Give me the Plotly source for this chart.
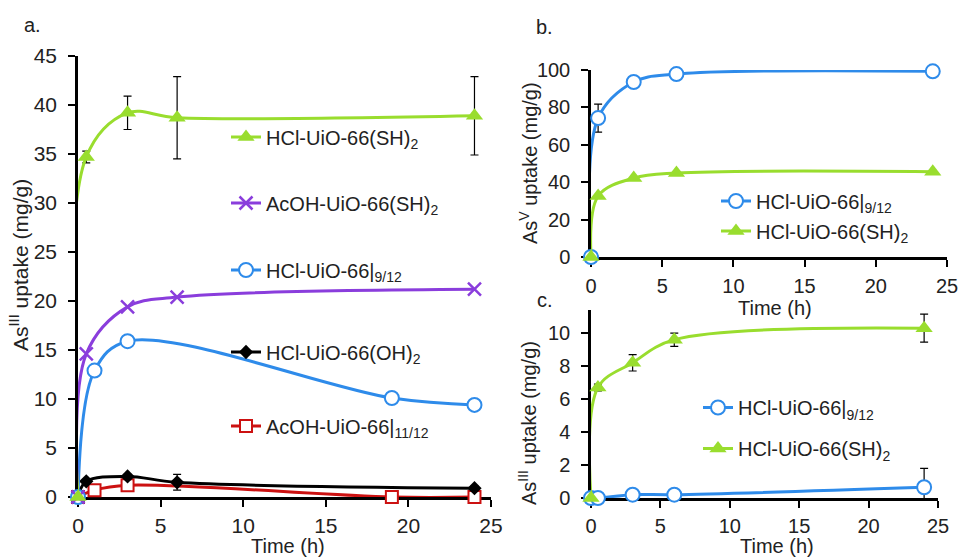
import plotly.graph_objects as go

# ---------------- data ----------------
# Panel a (As(III))
t_a_sh = [0, 0.5, 3, 6, 24]
y_a_sh = [0, 34.7, 39.2, 38.7, 38.9]
e_a_sh = [0, 0.6, 1.7, 4.2, 4.0]

t_a_acsh = [0, 0.5, 3, 6, 24]
y_a_acsh = [0, 14.6, 19.4, 20.4, 21.2]

t_a_hcl = [0, 1, 3, 19, 24]
y_a_hcl = [0, 12.9, 15.9, 10.1, 9.4]

t_a_oh = [0, 0.5, 3, 6, 24]
y_a_oh = [0, 1.6, 2.1, 1.5, 0.9]
e_a_oh = [0, 0.2, 0.2, 0.8, 0.2]

t_a_ac = [0, 1, 3, 19, 24]
y_a_ac = [0, 0.7, 1.2, 0, 0]

# Panel b (As(V))
t_b = [0, 0.5, 3, 6, 24]
y_b_hcl = [0, 74.3, 93.6, 97.8, 99.3]
e_b_hcl = [0, 7.5, 0, 0, 0]
y_b_sh = [0, 32.6, 42.2, 44.9, 45.6]

# Panel c (As(III))
t_c = [0, 0.5, 3, 6, 24]
y_c_hcl = [0, 0.0, 0.2, 0.2, 0.65]
e_c_hcl = [0, 0, 0, 0, 1.15]
y_c_sh = [0, 6.7, 8.2, 9.6, 10.3]
e_c_sh = [0, 0.2, 0.5, 0.4, 0.85]

names = {
    "sh": "HCl-UiO-66(SH)<sub>2</sub>",
    "acsh": "AcOH-UiO-66(SH)<sub>2</sub>",
    "hcl": "HCl-UiO-66|<sub>9/12</sub>",
    "oh": "HCl-UiO-66(OH)<sub>2</sub>",
    "ac": "AcOH-UiO-66|<sub>11/12</sub>",
}

GREEN = "#99DD2E"
PURPLE = "#8A3DDC"
BLUE = "#2E8BEA"
RED = "#CC1111"
BLACK = "#000000"
FONT = "Liberation Sans, Arial, sans-serif"

fig = go.Figure()
_gid = [0]


def add(x, y, name, color, symbol, xa, ya, legend, err=None, fill=None, size=13, mlw=2):
    kw = {}
    if err is not None:
        kw["error_y"] = dict(type="data", array=err, visible=True, color="black",
                             thickness=1.2, width=4)
    _gid[0] += 1
    fig.add_trace(go.Scatter(
        x=x, y=y, name=name, mode="lines+markers",
        line=dict(color=color, width=3, shape="spline", smoothing=1.0),
        marker=dict(symbol=symbol, size=size,
                    color=fill if fill else color,
                    line=dict(color=color, width=mlw)),
        xaxis=xa, yaxis=ya, legend=legend, legendgroup="g%d" % _gid[0],
        cliponaxis=False, **kw))


# panel a
add(t_a_ac, y_a_ac, names["ac"], RED, "square", "x", "y", "legend5", fill="white", size=12)
add(t_a_oh, y_a_oh, names["oh"], BLACK, "diamond", "x", "y", "legend4", err=e_a_oh, size=11, mlw=0)
add(t_a_hcl, y_a_hcl, names["hcl"], BLUE, "circle", "x", "y", "legend3", fill="white", size=14)
add(t_a_acsh, y_a_acsh, names["acsh"], PURPLE, "x-thin-open", "x", "y", "legend2", size=13, mlw=2.5)
add(t_a_sh, y_a_sh, names["sh"], GREEN, "triangle-up", "x", "y", "legend", err=e_a_sh, size=15, mlw=0)

# panel b
add(t_b, y_b_hcl, names["hcl"], BLUE, "circle", "x2", "y2", "legend6", err=e_b_hcl, fill="white", size=14)
add(t_b, y_b_sh, names["sh"], GREEN, "triangle-up", "x2", "y2", "legend6", size=15, mlw=0)

# panel c
add(t_c, y_c_hcl, names["hcl"], BLUE, "circle", "x3", "y3", "legend7", err=e_c_hcl, fill="white", size=14)
add(t_c, y_c_sh, names["sh"], GREEN, "triangle-up", "x3", "y3", "legend7", err=e_c_sh, size=15, mlw=0)

W, H = 959, 559


def px(x):
    return x / W


def py(y):
    return 1 - y / H


def axis(fs, standoff):
    return dict(showline=True, linecolor="black", linewidth=2.5, ticks="outside",
                ticklen=7, tickwidth=2, tickcolor="black", showgrid=False, zeroline=False,
                tickfont=dict(family=FONT, size=fs, color="#222"), mirror=False,
                layer="below traces", ticklabelstandoff=standoff)


def leg(x, y, gap=0):
    return dict(x=x, y=y, bgcolor="rgba(0,0,0,0)",
                font=dict(family=FONT, size=20, color="#222"),
                xanchor="left", yanchor="middle", itemwidth=30,
                tracegroupgap=gap, traceorder="grouped")


layout = dict(
    width=W, height=H, margin=dict(l=0, r=0, t=0, b=0, autoexpand=False),
    paper_bgcolor="white", plot_bgcolor="white",
    xaxis=dict(domain=[px(78), px(491)], range=[0, 25], dtick=5, anchor="y", **axis(21, 1)),
    yaxis=dict(domain=[py(497), py(56)], range=[0, 45], dtick=5, anchor="x", **axis(21, 7)),
    xaxis2=dict(domain=[px(591), px(947)], range=[0, 25], dtick=5, anchor="y2", **axis(20, 2)),
    yaxis2=dict(domain=[py(257), py(70)], range=[0, 100], dtick=20, anchor="x2", **axis(20, 7)),
    xaxis3=dict(domain=[px(591), px(938)], range=[0, 25], dtick=5, anchor="y3", **axis(20, 1)),
    yaxis3=dict(domain=[py(498), py(310)], range=[0, 11.4], dtick=2, anchor="x3", **axis(20, 7)),
    legend=leg(px(226), py(137)),
    legend2=leg(px(226), py(203)),
    legend3=leg(px(226), py(270)),
    legend4=leg(px(226), py(352)),
    legend5=leg(px(226), py(426)),
    legend6=leg(px(716), py(216), gap=1),
    legend7=leg(px(698), py(428), gap=12),
    showlegend=True,
)
fig.update_layout(**layout)

ann_font = dict(family=FONT, size=20, color="#222")
anns = [
    dict(text="a.", x=px(32), y=py(25)),
    dict(text="b.", x=px(544), y=py(27)),
    dict(text="c.", x=px(545), y=py(300)),
    dict(text="Time (h)", x=px(288), y=0.0, yanchor="bottom"),
    dict(text="Time (h)", x=px(775), y=py(308)),
    dict(text="Time (h)", x=px(777), y=0.0, yanchor="bottom"),
    dict(text="As<sup>III</sup> uptake (mg/g)", x=px(19), y=py(265), textangle=-90,
         font=dict(family=FONT, size=21, color="#222")),
    dict(text="As<sup>V</sup> uptake (mg/g)", x=px(528), y=py(163), textangle=-90),
    dict(text="As<sup>III</sup> uptake (mg/g)", x=px(527), y=py(423), textangle=-90),
]
for a in anns:
    f = a.pop("font", ann_font)
    ya = a.pop("yanchor", "middle")
    fig.add_annotation(xref="paper", yref="paper", showarrow=False,
                       xanchor="center", yanchor=ya, font=f, **a)

fig.write_html("out.html")
